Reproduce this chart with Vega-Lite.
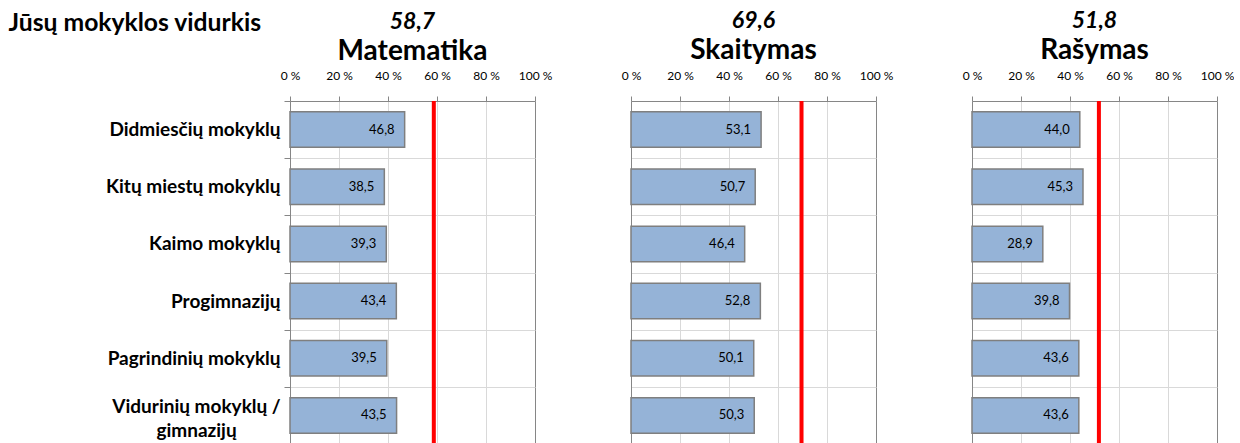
{
  "$schema": "https://vega.github.io/schema/vega-lite/v6.json",
  "padding": {"left": 8, "top": 10, "right": 0, "bottom": 0},
  "bounds": "flush",
  "spacing": 96,
  "datasets": {
    "bars": [
      {"subject": "Matematika", "school": "Didmiesčių mokyklų", "value": 46.8},
      {"subject": "Matematika", "school": "Kitų miestų mokyklų", "value": 38.5},
      {"subject": "Matematika", "school": "Kaimo mokyklų", "value": 39.3},
      {"subject": "Matematika", "school": "Progimnazijų", "value": 43.4},
      {"subject": "Matematika", "school": "Pagrindinių mokyklų", "value": 39.5},
      {"subject": "Matematika", "school": "Vidurinių mokyklų / gimnazijų", "value": 43.5},
      {"subject": "Skaitymas", "school": "Didmiesčių mokyklų", "value": 53.1},
      {"subject": "Skaitymas", "school": "Kitų miestų mokyklų", "value": 50.7},
      {"subject": "Skaitymas", "school": "Kaimo mokyklų", "value": 46.4},
      {"subject": "Skaitymas", "school": "Progimnazijų", "value": 52.8},
      {"subject": "Skaitymas", "school": "Pagrindinių mokyklų", "value": 50.1},
      {"subject": "Skaitymas", "school": "Vidurinių mokyklų / gimnazijų", "value": 50.3},
      {"subject": "Rašymas", "school": "Didmiesčių mokyklų", "value": 44.0},
      {"subject": "Rašymas", "school": "Kitų miestų mokyklų", "value": 45.3},
      {"subject": "Rašymas", "school": "Kaimo mokyklų", "value": 28.9},
      {"subject": "Rašymas", "school": "Progimnazijų", "value": 39.8},
      {"subject": "Rašymas", "school": "Pagrindinių mokyklų", "value": 43.6},
      {"subject": "Rašymas", "school": "Vidurinių mokyklų / gimnazijų", "value": 43.6}
    ],
    "means": [
      {"subject": "Matematika", "mean": 58.7},
      {"subject": "Skaitymas", "mean": 69.6},
      {"subject": "Rašymas", "mean": 51.8}
    ]
  },
  "config": {
    "font": "Lato",
    "locale": {"number": {"decimal": ",", "thousands": " ", "grouping": [3], "currency": ["", " €"]}},
    "view": {"stroke": null},
    "axis": {"domainColor": "#868686", "tickColor": "#868686", "gridColor": "#d9d9d9", "labelColor": "black", "labelFont": "Lato", "titleFont": "Lato"},
    "title": {"color": "black", "subtitleColor": "black", "font": "Lato", "subtitleFont": "Lato"}
  },
  "hconcat": [
    {
      "width": 245, "height": 343,
      "title": {"text": "58,7", "subtitle": "Matematika", "anchor": "middle", "fontSize": 23, "fontStyle": "italic", "fontWeight": "bold", "subtitleFontSize": 28, "subtitleFontWeight": "bold", "subtitlePadding": 4, "offset": -56},
      "data": {"name": "bars"},
      "transform": [{"filter": "datum.subject === 'Matematika'"}],
      "layer": [
        {
          "mark": {"type": "bar", "color": "#95B3D7", "stroke": "#7f7f7f", "strokeWidth": 1.5, "height": {"band": 0.62}},
          "encoding": {
            "y": {"field": "school", "type": "nominal", "sort": null, "scale": {"paddingInner": 0, "paddingOuter": 0},
              "axis": {"orient": "left", "title": "Jūsų mokyklos vidurkis", "titleAngle": 0, "titleX": -282, "titleY": -71, "titleAlign": "left", "titleBaseline": "alphabetic", "titleFontSize": 24.7, "titleFontWeight": "bold", "titleColor": "black",
                "labelFontSize": 19, "labelFontWeight": "bold", "tickSize": 6, "tickBand": "extent", "grid": true, "labelLimit": 300, "labelLineHeight": 24,
                "labelPadding": {"condition": {"test": "datum.value == 'Vidurinių mokyklų / gimnazijų'", "value": 88}, "value": 4},
                "labelAlign": {"condition": {"test": "datum.value == 'Vidurinių mokyklų / gimnazijų'", "value": "center"}, "value": "right"},
                "labelOffset": {"condition": {"test": "datum.value == 'Vidurinių mokyklų / gimnazijų'", "value": -9}, "value": 0},
                "labelExpr": "datum.value == 'Vidurinių mokyklų / gimnazijų' ? ['Vidurinių mokyklų /', 'gimnazijų'] : datum.label"}},
            "x": {"field": "value", "type": "quantitative", "scale": {"domain": [0, 100], "nice": false},
              "axis": {"orient": "top", "title": null, "values": [0, 20, 40, 60, 80, 100], "labelExpr": "datum.value + ' %'", "labelFontSize": 12, "tickSize": 5, "labelPadding": 14, "labelFlush": false, "labelOverlap": false, "grid": true,
                "gridColor": {"condition": {"test": "datum.value === 100", "value": "#868686"}, "value": "#d9d9d9"}}}
          }
        },
        {
          "mark": {"type": "text", "align": "right", "dx": -10, "fontSize": 13, "color": "black"},
          "encoding": {
            "y": {"field": "school", "type": "nominal", "sort": null},
            "x": {"field": "value", "type": "quantitative"},
            "text": {"field": "value", "type": "quantitative", "format": ".1f"}
          }
        },
        {
          "data": {"name": "means"},
          "transform": [{"filter": "datum.subject === 'Matematika'"}],
          "mark": {"type": "rule", "color": "#ff0000", "strokeWidth": 4},
          "encoding": {"x": {"field": "mean", "type": "quantitative"}}
        }
      ]
    },
    {
      "width": 245, "height": 343,
      "title": {"text": "69,6", "subtitle": "Skaitymas", "anchor": "middle", "fontSize": 23, "fontStyle": "italic", "fontWeight": "bold", "subtitleFontSize": 28, "subtitleFontWeight": "bold", "subtitlePadding": 4, "offset": 4},
      "data": {"name": "bars"},
      "transform": [{"filter": "datum.subject === 'Skaitymas'"}],
      "layer": [
        {
          "mark": {"type": "bar", "color": "#95B3D7", "stroke": "#7f7f7f", "strokeWidth": 1.5, "height": {"band": 0.62}},
          "encoding": {
            "y": {"field": "school", "type": "nominal", "sort": null, "scale": {"paddingInner": 0, "paddingOuter": 0},
              "axis": {"orient": "left", "title": null, "labels": false, "ticks": false, "tickBand": "extent", "grid": true}},
            "x": {"field": "value", "type": "quantitative", "scale": {"domain": [0, 100], "nice": false},
              "axis": {"orient": "top", "title": null, "values": [0, 20, 40, 60, 80, 100], "labelExpr": "datum.value + ' %'", "labelFontSize": 12, "tickSize": 5, "labelPadding": 14, "labelFlush": false, "labelOverlap": false, "grid": true,
                "gridColor": {"condition": {"test": "datum.value === 100", "value": "#868686"}, "value": "#d9d9d9"}}}
          }
        },
        {
          "mark": {"type": "text", "align": "right", "dx": -10, "fontSize": 13, "color": "black"},
          "encoding": {
            "y": {"field": "school", "type": "nominal", "sort": null},
            "x": {"field": "value", "type": "quantitative"},
            "text": {"field": "value", "type": "quantitative", "format": ".1f"}
          }
        },
        {
          "data": {"name": "means"},
          "transform": [{"filter": "datum.subject === 'Skaitymas'"}],
          "mark": {"type": "rule", "color": "#ff0000", "strokeWidth": 4},
          "encoding": {"x": {"field": "mean", "type": "quantitative"}}
        }
      ]
    },
    {
      "width": 245, "height": 343,
      "title": {"text": "51,8", "subtitle": "Rašymas", "anchor": "middle", "fontSize": 23, "fontStyle": "italic", "fontWeight": "bold", "subtitleFontSize": 28, "subtitleFontWeight": "bold", "subtitlePadding": 4, "offset": 4},
      "data": {"name": "bars"},
      "transform": [{"filter": "datum.subject === 'Rašymas'"}],
      "layer": [
        {
          "mark": {"type": "bar", "color": "#95B3D7", "stroke": "#7f7f7f", "strokeWidth": 1.5, "height": {"band": 0.62}},
          "encoding": {
            "y": {"field": "school", "type": "nominal", "sort": null, "scale": {"paddingInner": 0, "paddingOuter": 0},
              "axis": {"orient": "left", "title": null, "labels": false, "ticks": false, "tickBand": "extent", "grid": true}},
            "x": {"field": "value", "type": "quantitative", "scale": {"domain": [0, 100], "nice": false},
              "axis": {"orient": "top", "title": null, "values": [0, 20, 40, 60, 80, 100], "labelExpr": "datum.value + ' %'", "labelFontSize": 12, "tickSize": 5, "labelPadding": 14, "labelFlush": false, "labelOverlap": false, "grid": true,
                "gridColor": {"condition": {"test": "datum.value === 100", "value": "#868686"}, "value": "#d9d9d9"}}}
          }
        },
        {
          "mark": {"type": "text", "align": "right", "dx": -10, "fontSize": 13, "color": "black"},
          "encoding": {
            "y": {"field": "school", "type": "nominal", "sort": null},
            "x": {"field": "value", "type": "quantitative"},
            "text": {"field": "value", "type": "quantitative", "format": ".1f"}
          }
        },
        {
          "data": {"name": "means"},
          "transform": [{"filter": "datum.subject === 'Rašymas'"}],
          "mark": {"type": "rule", "color": "#ff0000", "strokeWidth": 4},
          "encoding": {"x": {"field": "mean", "type": "quantitative"}}
        }
      ]
    }
  ]
}
